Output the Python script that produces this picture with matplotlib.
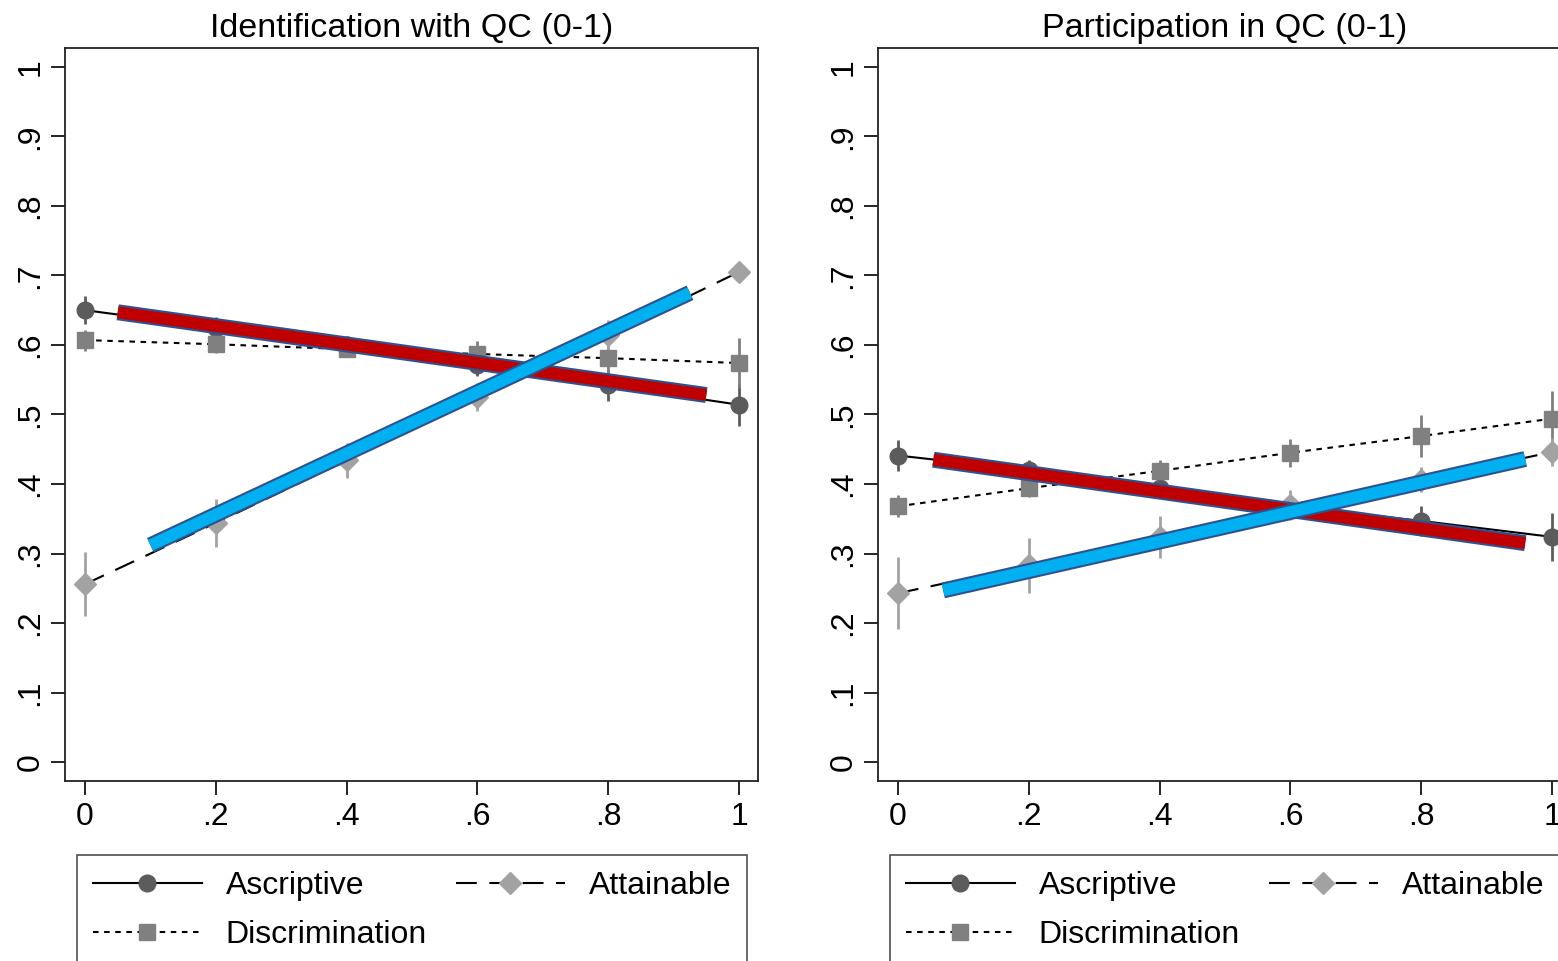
import matplotlib
matplotlib.use('Agg')
import matplotlib.pyplot as plt
import matplotlib.patheffects as pe
import numpy as np

plt.rcParams['font.family'] = ['Liberation Sans', 'DejaVu Sans']
plt.rcParams['lines.scale_dashes'] = False

# data
x = [0, 0.2, 0.4, 0.6, 0.8, 1.0]
titles = ['Identification with QC (0-1)', 'Participation in QC (0-1)']

# panel 1: identification
asc1 = [0.650, 0.625, 0.600, 0.571, 0.542, 0.514]
asc1_err = [0.020, 0.015, 0.013, 0.015, 0.022, 0.030]
dis1 = [0.607, 0.601, 0.594, 0.587, 0.581, 0.574]
dis1_err = [0.015, 0.012, 0.012, 0.018, 0.025, 0.036]
att1 = [0.256, 0.344, 0.434, 0.525, 0.614, 0.705]
att1_err = [0.046, 0.035, 0.025, 0.020, 0.022, 0.015]

# panel 2: participation
asc2 = [0.441, 0.420, 0.394, 0.368, 0.347, 0.324]
asc2_err = [0.022, 0.015, 0.013, 0.016, 0.022, 0.034]
dis2 = [0.368, 0.394, 0.419, 0.445, 0.469, 0.494]
dis2_err = [0.016, 0.013, 0.015, 0.020, 0.030, 0.040]
att2 = [0.243, 0.283, 0.324, 0.370, 0.406, 0.446]
att2_err = [0.052, 0.040, 0.030, 0.022, 0.018, 0.020]

# hand drawn trend bars (start, end)
red1_x = [0.05, 0.95]
red1_y = [0.647, 0.528]
blue1_x = [0.10, 0.925]
blue1_y = [0.312, 0.675]
red2_x = [0.054, 0.959]
red2_y = [0.435, 0.315]
blue2_x = [0.069, 0.959]
blue2_y = [0.247, 0.436]

panels = [
    (asc1, asc1_err, dis1, dis1_err, att1, att1_err, red1_x, red1_y, blue1_x, blue1_y),
    (asc2, asc2_err, dis2, dis2_err, att2, att2_err, red2_x, red2_y, blue2_x, blue2_y),
]

W, H = 1558, 961
fig = plt.figure(figsize=(W / 100, H / 100), dpi=100)
fig.patch.set_facecolor('white')

ax_lefts = [65, 878]
leg_lefts = [77, 890]
FS = 23

for k in range(2):
    asc, asc_e, dis, dis_e, att, att_e, rx, ry, bx, by = panels[k]
    ax = fig.add_axes([ax_lefts[k] / W, 1 - 781 / H, 693 / W, 733 / H])
    c_asc, c_dis, c_att = '#5c5c5c', '#808080', '#a2a2a2'

    ax.errorbar(x, asc, yerr=asc_e, fmt='none', ecolor=c_asc, elinewidth=2, capsize=0, zorder=2)
    ax.errorbar(x, dis, yerr=dis_e, fmt='none', ecolor=c_dis, elinewidth=2, capsize=0, zorder=2)
    ax.errorbar(x, att, yerr=att_e, fmt='none', ecolor=c_att, elinewidth=2, capsize=0, zorder=2)

    l1, = ax.plot(x, asc, color='black', lw=1.5, marker='o', ms=12,
                  mfc=c_asc, mec=c_asc, zorder=3, label='Ascriptive')
    l2, = ax.plot(x, dis, color='black', lw=1.5, dashes=(4, 4), marker='s', ms=11.5,
                  mfc=c_dis, mec=c_dis, zorder=3, label='Discrimination')
    l3, = ax.plot(x, att, color='black', lw=1.5, dashes=(15, 9), marker='D', ms=11.5,
                  mfc=c_att, mec=c_att, zorder=3, label='Attainable')

    ax.plot(rx, ry, color='#c00000', lw=8.5, solid_capstyle='butt', zorder=5,
            path_effects=[pe.Stroke(linewidth=11.5, foreground='#2f528f', capstyle='butt'), pe.Normal()])
    ax.plot(bx, by, color='#00b0f0', lw=8.5, solid_capstyle='butt', zorder=6,
            path_effects=[pe.Stroke(linewidth=11.5, foreground='#2f528f', capstyle='butt'), pe.Normal()])

    ax.set_xlim(-0.0306, 1.029)
    ax.set_ylim(-0.027, 1.027)
    ax.set_xticks(x)
    ax.set_xticklabels(['0', '.2', '.4', '.6', '.8', '1'], fontsize=FS)
    yt = np.round(np.arange(0, 1.01, 0.1), 1)
    ax.set_yticks(yt)
    ax.set_yticklabels(['0', '.1', '.2', '.3', '.4', '.5', '.6', '.7', '.8', '.9', '1'],
                       fontsize=FS, rotation=90, va='center')
    ax.tick_params(direction='out', length=10, width=1.2, color='black')
    ax.tick_params(axis='x', pad=5)
    ax.tick_params(axis='y', pad=4)
    for s in ax.spines.values():
        s.set_linewidth(1.3)
        s.set_color('#222222')
    ax.set_title(titles[k], fontsize=24.5, pad=8)

    leg = fig.legend(handles=[l1, l2, l3], ncol=2, loc='upper left',
                     bbox_to_anchor=(leg_lefts[k] / W, 0, 670 / W, 1 - 855 / H),
                     mode='expand', fontsize=FS, frameon=True, fancybox=False,
                     edgecolor='#222222', borderpad=0.5, labelspacing=0.6,
                     handlelength=3.4, handletextpad=0.75, numpoints=1,
                     borderaxespad=0)
    leg.get_frame().set_linewidth(1.2)

fig.savefig('out.png', dpi=100, facecolor='white')
